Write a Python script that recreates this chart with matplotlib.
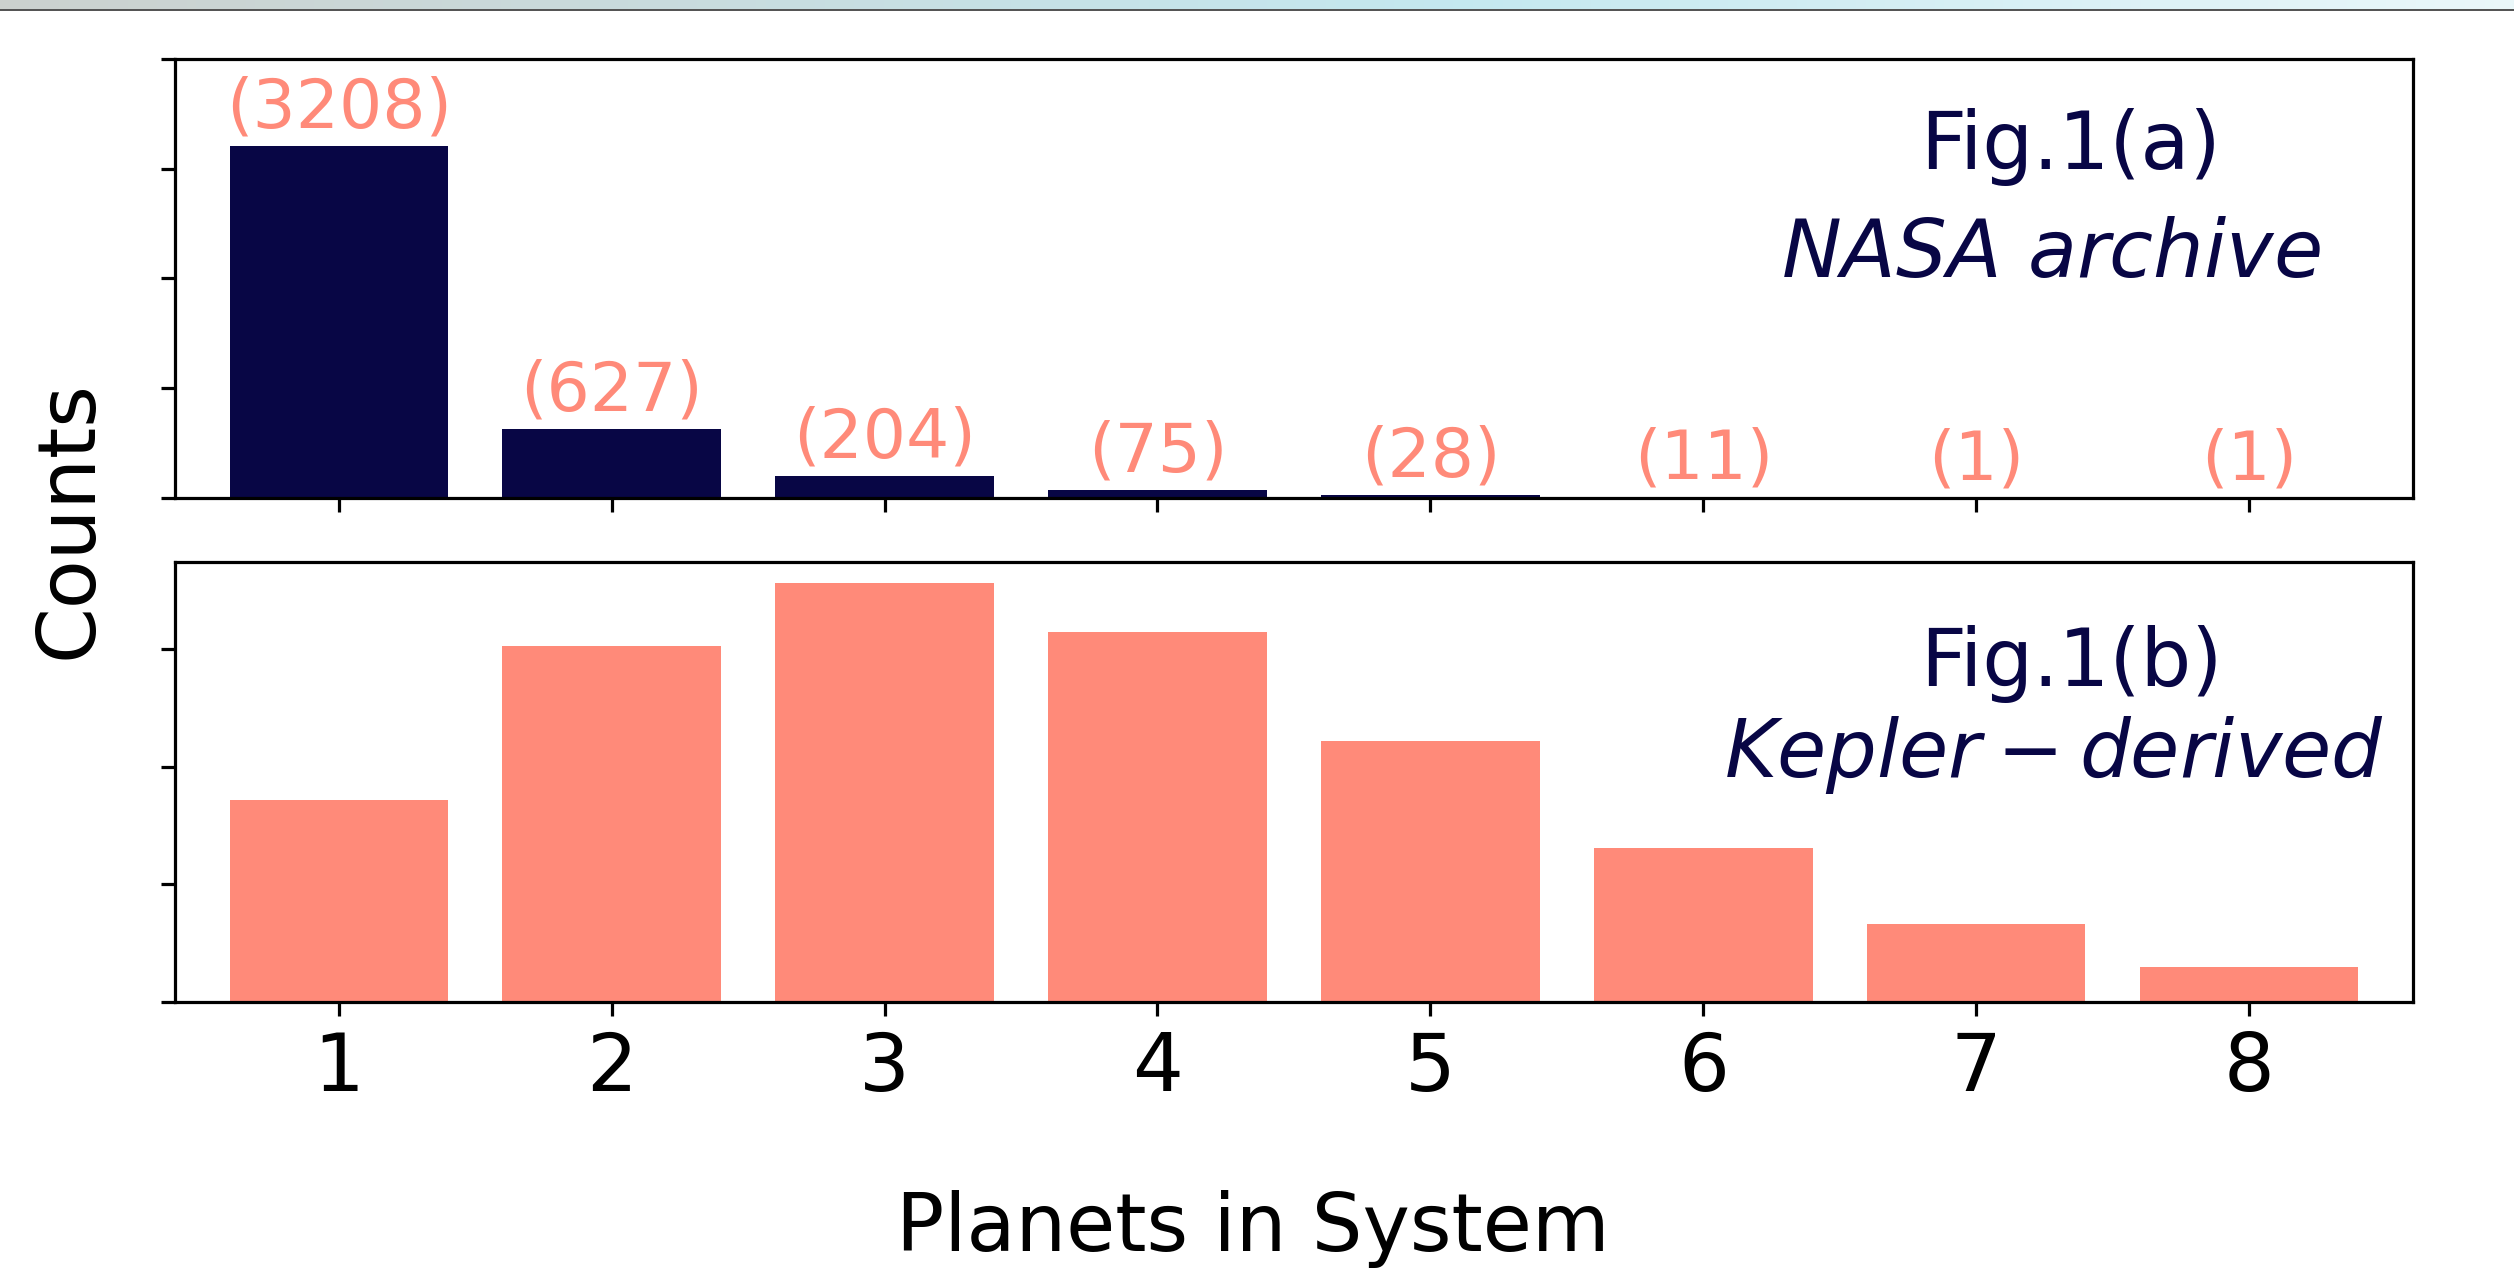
import numpy as np
import matplotlib
matplotlib.use('Agg')
import matplotlib.pyplot as plt

# planets per system
n_planets = [1, 2, 3, 4, 5, 6, 7, 8]
# NASA archive system counts
nasa_counts = [3208, 627, 204, 75, 28, 11, 1, 1]
# Kepler-derived distribution (same axis units, ticks every 1000)
kepler_counts = [1717, 3027, 3563, 3146, 2219, 1308, 661, 295]

navy = '#080645'
salmon = '#ff8a79'

plt.rcParams['font.family'] = 'DejaVu Sans'
plt.rcParams['mathtext.fontset'] = 'dejavusans'

fig = plt.figure(figsize=(2514/288, 1270/288), dpi=288)

# window title strip along the top edge
strip = fig.add_axes([0, 1 - 9.5/1270, 1, 9.5/1270])
grad = np.linspace(0, 1, 256)
c0 = np.array([0.80, 0.82, 0.81])
c1 = np.array([0.77, 0.91, 0.94])
c2 = np.array([0.92, 0.97, 0.98])
cols = np.where(grad[:, None] < 0.58,
                c0 + (c1 - c0) * (grad[:, None] / 0.58),
                c1 + (c2 - c1) * ((grad[:, None] - 0.58) / 0.42))
strip.imshow(cols[None, :, :], aspect='auto', extent=[0, 1, 0, 1])
strip.axis('off')
fig.add_artist(plt.Line2D([0, 1], [1 - 10.3/1270, 1 - 10.3/1270],
                          color='#555555', lw=0.5, transform=fig.transFigure))

ax1 = fig.add_axes([0.0696, 0.6079, 0.8902, 0.3457])
ax2 = fig.add_axes([0.0696, 0.2110, 0.8902, 0.3465])

ax1.bar(n_planets, nasa_counts, width=0.8, color=navy)
for x, v in zip(n_planets, nasa_counts):
    ax1.text(x, v + 340, '(%d)' % v, ha='center', va='center',
             color=salmon, fontsize=17)
ax1.set_xlim(0.4, 8.6)
ax1.set_ylim(0, 4000)
ax1.set_yticks([0, 1000, 2000, 3000, 4000])
ax1.set_yticklabels([])
ax1.set_xticks(n_planets)
ax1.set_xticklabels([])
ax1.text(0.8472, 0.7487, 'Fig.1(a)', transform=ax1.transAxes,
         ha='center', va='baseline', fontsize=20, color=navy)
ax1.text(0.8383, 0.5027, r'$NASA\ archive$', transform=ax1.transAxes,
         ha='center', va='baseline', fontsize=20, color=navy)

ax2.bar(n_planets, kepler_counts, width=0.8, color=salmon)
ax2.set_xlim(0.4, 8.6)
ax2.set_ylim(0, max(kepler_counts) * 1.05)
ax2.set_yticks([0, 1000, 2000, 3000])
ax2.set_yticklabels([])
ax2.set_xticks(n_planets)
ax2.set_xticklabels([str(n) for n in n_planets], fontsize=20)
ax2.text(0.8472, 0.7182, 'Fig.1(b)', transform=ax2.transAxes,
         ha='center', va='baseline', fontsize=20, color=navy)
ax2.text(0.8396, 0.512, r'$Kepler-derived$', transform=ax2.transAxes,
         ha='center', va='baseline', fontsize=20, color=navy)

fig.text(0.0278, 0.591, 'Counts', rotation=90, ha='center', va='center',
         fontsize=20)
fig.text(0.4984, 0.015, 'Planets in System', ha='center', va='baseline',
         fontsize=20)

fig.savefig('out.png', dpi=288)
